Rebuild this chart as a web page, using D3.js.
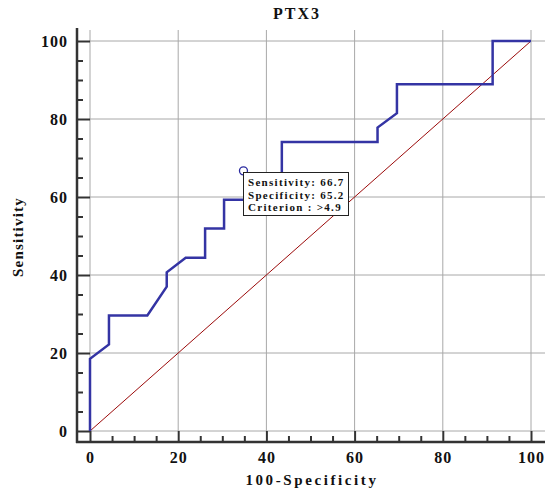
<!DOCTYPE html>
<html>
<head>
<meta charset="utf-8">
<script src="https://cdn.jsdelivr.net/npm/d3@7"></script>
<style>
  body { margin: 0; background: #fff; }
  text { font-family: "Liberation Serif", "DejaVu Serif", serif; font-weight: bold; fill: #111; }
</style>
</head>
<body>
<div id="chart"></div>
<script>
// ROC points: 100-Specificity vs Sensitivity
const fpr = [0, 0, 4.3, 4.3, 13.0, 17.4, 17.4, 21.7, 26.1, 26.1, 30.4, 30.4, 34.8, 39.1, 43.5, 43.5, 65.2, 65.2, 69.6, 69.6, 91.3, 91.3, 100];
const tpr = [0, 18.5, 22.2, 29.6, 29.6, 37.0, 40.7, 44.4, 44.4, 51.9, 51.9, 59.3, 59.3, 63.0, 63.0, 74.1, 74.1, 77.8, 81.5, 88.9, 88.9, 100, 100];
const majorTicks = [0, 20, 40, 60, 80, 100];
const minorTicks = d3.range(0, 101, 5).filter(d => d % 20 !== 0);
const cutoff = { x: 34.8, y: 66.7 };
const tipLines = ["Sensitivity: 66.7", "Specificity: 65.2", "Criterion : >4.9"];

const W = 545, H = 491;
const svg = d3.select("#chart").append("svg").attr("width", W).attr("height", H);

const x = d3.scaleLinear().domain([0, 100]).range([90, 531]);
const y = d3.scaleLinear().domain([0, 100]).range([431, 41]);
const axisX = 77, axisY = 442;

// gridlines
svg.append("g").selectAll("line.v").data(majorTicks).join("line")
  .attr("x1", d => x(d)).attr("x2", d => x(d))
  .attr("y1", 30).attr("y2", y(0))
  .attr("stroke", "#a8a8a8").attr("stroke-width", 1);
svg.append("g").selectAll("line.h").data(majorTicks).join("line")
  .attr("x1", x(0)).attr("x2", W)
  .attr("y1", d => y(d)).attr("y2", d => y(d))
  .attr("stroke", "#a8a8a8").attr("stroke-width", 1);

// y axis
const yAxis = svg.append("g").attr("transform", `translate(${axisX},0)`)
  .call(d3.axisLeft(y).tickValues(majorTicks).tickSize(-(x(0) - axisX)).tickPadding(9));
yAxis.append("g").call(d3.axisLeft(y).tickValues(minorTicks).tickSize(-6).tickFormat(""));
yAxis.selectAll(".domain").remove();
yAxis.selectAll(".tick line").attr("stroke", "#333").attr("stroke-width", 2);
yAxis.selectAll("text").attr("font-size", 16).attr("letter-spacing", 1)
  .attr("font-family", "Liberation Serif").attr("font-weight", "bold").attr("fill", "#111");

// x axis
const xAxis = svg.append("g").attr("transform", `translate(0,${axisY})`)
  .call(d3.axisBottom(x).tickValues(majorTicks).tickSize(-(axisY - y(0))).tickPadding(10));
xAxis.append("g").call(d3.axisBottom(x).tickValues(minorTicks).tickSize(-6).tickFormat(""));
xAxis.selectAll(".domain").remove();
xAxis.selectAll(".tick line").attr("stroke", "#333").attr("stroke-width", 2);
xAxis.selectAll("text").attr("font-size", 16).attr("letter-spacing", 1)
  .attr("font-family", "Liberation Serif").attr("font-weight", "bold").attr("fill", "#111");

// axis lines
svg.append("line").attr("x1", axisX).attr("x2", axisX).attr("y1", 28).attr("y2", axisY + 1)
  .attr("stroke", "#333").attr("stroke-width", 2.5);
svg.append("line").attr("x1", axisX - 1).attr("x2", W).attr("y1", axisY).attr("y2", axisY)
  .attr("stroke", "#333").attr("stroke-width", 2.5);

// reference diagonal
svg.append("line")
  .attr("x1", x(0)).attr("y1", y(0)).attr("x2", x(100)).attr("y2", y(100))
  .attr("stroke", "#9b0a0a").attr("stroke-width", 1);

// ROC curve
const pts = fpr.map((d, i) => [d, tpr[i]]);
svg.append("path")
  .attr("d", d3.line().x(d => x(d[0])).y(d => y(d[1]))(pts))
  .attr("fill", "none").attr("stroke", "#3434a4").attr("stroke-width", 2.5)
  .attr("stroke-linejoin", "miter");

// cutoff marker
svg.append("circle").attr("cx", x(cutoff.x)).attr("cy", y(cutoff.y)).attr("r", 4)
  .attr("fill", "#fff").attr("stroke", "#2a2aa0").attr("stroke-width", 1.3);

// tooltip box
const tip = svg.append("g");
tip.append("rect").attr("x", 243.5).attr("y", 172.5).attr("width", 105).attr("height", 43)
  .attr("fill", "#fff").attr("stroke", "#222").attr("stroke-width", 1);
tip.selectAll("text").data(tipLines).join("text")
  .attr("x", 248).attr("y", (d, i) => 186 + i * 12.5)
  .attr("font-size", 11).attr("letter-spacing", 1.3)
  .text(d => d);

// titles
svg.append("text").attr("x", 297).attr("y", 19).attr("text-anchor", "middle")
  .attr("font-size", 16).attr("letter-spacing", 2).text("PTX3");
svg.append("text").attr("x", 312).attr("y", 485).attr("text-anchor", "middle")
  .attr("font-size", 15).attr("letter-spacing", 2.6).text("100-Specificity");
svg.append("text").attr("transform", "translate(23,237) rotate(-90)").attr("text-anchor", "middle")
  .attr("font-size", 15).attr("letter-spacing", 1.2).text("Sensitivity");
</script>
</body>
</html>
